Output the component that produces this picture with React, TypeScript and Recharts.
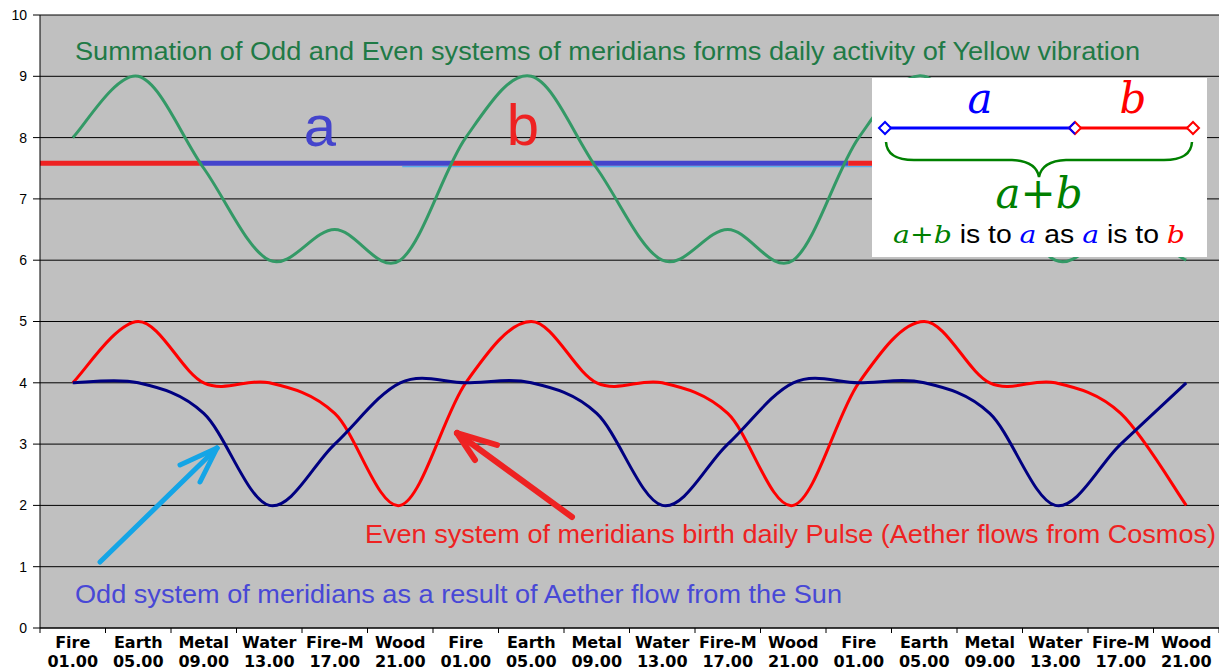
import React from "react";
import { LineChart, Line, CartesianGrid, XAxis, YAxis } from "recharts";

// categories (three daily cycles)
const elements = [
  "Fire", "Earth", "Metal", "Water", "Fire-M", "Wood",
  "Fire", "Earth", "Metal", "Water", "Fire-M", "Wood",
  "Fire", "Earth", "Metal", "Water", "Fire-M", "Wood",
];
const hours = [
  "01.00", "05.00", "09.00", "13.00", "17.00", "21.00",
  "01.00", "05.00", "09.00", "13.00", "17.00", "21.00",
  "01.00", "05.00", "09.00", "13.00", "17.00", "21.00",
];

// series
const yellowSum = [8, 9, 7.5, 6, 6.5, 6, 8, 9, 7.5, 6, 6.5, 6, 8, 9, 7.5, 6, 6.5, 6];
const evenPulse = [4, 5, 4, 4, 3.5, 2, 4, 5, 4, 4, 3.5, 2, 4, 5, 4, 4, 3.5, 2];
const oddSun = [4, 4, 3.5, 2, 3, 4, 4, 4, 3.5, 2, 3, 4, 4, 4, 3.5, 2, 3, 4];

// golden section bar: level and the break points (in category index units)
const goldenLevel = 7.58;
const goldenBreaks = [-0.5, 1.94, 5.79, 7.94, 11.84, 13.9];
const goldenColors = ["#ee2222", "#4444cc"];
const thinLevel = 7.525;
const thinRange = [5.03, 12.6];

const yTicks = [0, 1, 2, 3, 4, 5, 6, 7, 8, 9, 10];

const W = 1219;
const H = 672;
const LEFT = 40;
const BAND = (W - LEFT) / elements.length;

const rows = elements.map((_, i) => ({
  idx: i,
  sum: yellowSum[i],
  even: evenPulse[i],
  odd: oddSun[i],
}));
const xBounds = [...elements.map((_, i) => i - 0.5), elements.length - 0.5];

// Excel-like smoothing (Catmull-Rom as cubic Beziers)
const excelSmooth = (context: any) => {
  let pts: number[][] = [];
  return {
    areaStart() {},
    areaEnd() {},
    lineStart() {
      pts = [];
    },
    lineEnd() {
      const n = pts.length;
      if (!n) return;
      context.moveTo(pts[0][0], pts[0][1]);
      for (let i = 0; i < n - 1; i++) {
        const p0 = pts[Math.max(i - 1, 0)];
        const p1 = pts[i];
        const p2 = pts[i + 1];
        const p3 = pts[Math.min(i + 2, n - 1)];
        context.bezierCurveTo(
          p1[0] + (p2[0] - p0[0]) / 6, p1[1] + (p2[1] - p0[1]) / 6,
          p2[0] - (p3[0] - p1[0]) / 6, p2[1] - (p3[1] - p1[1]) / 6,
          p2[0], p2[1]
        );
      }
    },
    point(x: number, y: number) {
      pts.push([+x, +y]);
    },
  };
};

function XTick(props: any) {
  const { x, y, payload } = props;
  const i = Math.round(payload.value + 0.5);
  if (i < 0 || i >= elements.length) return <g />;
  const cx = x + BAND / 2;
  return (
    <text x={cx} y={y} textAnchor="middle" fontFamily="DejaVu Sans" fontWeight="bold" fontSize={16} fill="#000">
      <tspan x={cx} dy={15}>{elements[i]}</tspan>
      <tspan x={cx} dy={19}>{hours[i]}</tspan>
    </text>
  );
}

function Diamond({ x, y, color }: { x: number; y: number; color: string }) {
  return (
    <polygon
      points={`${x - 6},${y} ${x},${y - 6} ${x + 6},${y} ${x},${y + 6}`}
      fill="#fff" stroke={color} strokeWidth={2}
    />
  );
}

function Annotations() {
  const sans = "Liberation Sans, Arial, sans-serif";
  const serif = "DejaVu Serif, serif";
  return (
    <svg width={W} height={H} style={{ position: "absolute", left: 0, top: 0, pointerEvents: "none" }}>
      <text x={75} y={60} fontFamily={sans} fontSize={25} fill="#1f7a46" textLength={1065} lengthAdjust="spacingAndGlyphs">
        Summation of Odd and Even systems of meridians forms daily activity of Yellow vibration
      </text>
      <text x={320} y={146} fontFamily={sans} fontSize={58} fill="#4444cc" textAnchor="middle">a</text>
      <text x={523} y={145} fontFamily={sans} fontSize={58} fill="#ee2222" textAnchor="middle">b</text>
      <text x={365} y={543} fontFamily={sans} fontSize={25} fill="#ee2222" textLength={851} lengthAdjust="spacingAndGlyphs">
        Even system of meridians birth daily Pulse (Aether flows from Cosmos)
      </text>
      <text x={75} y={603} fontFamily={sans} fontSize={25} fill="#4848d6" textLength={767} lengthAdjust="spacingAndGlyphs">
        Odd system of meridians as a result of Aether flow from the Sun
      </text>

      {/* arrows */}
      <g stroke="#14a5e6" strokeWidth={5} strokeLinecap="round" fill="none">
        <line x1={100} y1={562} x2={217} y2={448} />
        <line x1={217} y1={448} x2={180} y2={465} />
        <line x1={217} y1={448} x2={200} y2={482} />
      </g>
      <g stroke="#ee2222" strokeWidth={6} strokeLinecap="round" fill="none">
        <line x1={572} y1={517} x2={457} y2={433} />
        <line x1={457} y1={433} x2={497} y2={445} />
        <line x1={457} y1={433} x2={475} y2={460} />
      </g>

      {/* golden ratio box */}
      <rect x={872} y={78} width={335} height={179} fill="#fff" />
      <text x={980} y={113} fontFamily={serif} fontStyle="italic" fontSize={42} fill="#0000ff" textAnchor="middle">a</text>
      <text x={1133} y={113} fontFamily={serif} fontStyle="italic" fontSize={42} fill="#ff0000" textAnchor="middle">b</text>
      <line x1={885} y1={128} x2={1075} y2={128} stroke="#0000ff" strokeWidth={3} />
      <line x1={1075} y1={128} x2={1193} y2={128} stroke="#ff0000" strokeWidth={3} />
      <Diamond x={885} y={128} color="#0000ff" />
      <Diamond x={1075} y={128} color="#ff0000" />
      <polyline points="1075,122 1069,128 1075,134" fill="none" stroke="#0000ff" strokeWidth={2} />
      <Diamond x={1193} y={128} color="#ff0000" />
      <path
        d="M886,142 Q887,160 914,160 L1012,160 Q1036,161 1039,177 Q1042,161 1066,160 L1164,160 Q1191,160 1192,142"
        fill="none" stroke="#008000" strokeWidth={2.5}
      />
      <text x={1039} y={208} fontFamily={serif} fontStyle="italic" fontSize={42} fill="#008000" textAnchor="middle">a+b</text>
      <text x={893} y={243} fontSize={25} fontFamily={sans} fill="#000" textLength={292} lengthAdjust="spacingAndGlyphs">
        <tspan fontFamily={serif} fontStyle="italic" fill="#008000">a+b</tspan>
        <tspan> is to </tspan>
        <tspan fontFamily={serif} fontStyle="italic" fill="#0000ff">a</tspan>
        <tspan> as </tspan>
        <tspan fontFamily={serif} fontStyle="italic" fill="#0000ff">a</tspan>
        <tspan> is to </tspan>
        <tspan fontFamily={serif} fontStyle="italic" fill="#ff0000">b</tspan>
      </text>
    </svg>
  );
}

export default function App() {
  const segments = goldenBreaks.slice(0, -1).map((from, k) => ({
    color: goldenColors[k % 2],
    data: [
      { idx: from, level: goldenLevel },
      { idx: goldenBreaks[k + 1], level: goldenLevel },
    ],
  }));
  const thin = thinRange.map((v) => ({ idx: v, level: thinLevel }));

  return (
    <div style={{ position: "fixed", left: 0, top: 0, width: W, height: H, overflow: "hidden", background: "#fff", fontFamily: "Liberation Sans, Arial, sans-serif" }}>
      <LineChart width={W} height={H} data={rows} margin={{ top: 15, right: 0, bottom: 0, left: 0 }}>
        <CartesianGrid vertical={false} stroke="#000" fill="#c0c0c0" fillOpacity={1} />
        <XAxis
          dataKey="idx"
          type="number"
          domain={[-0.5, elements.length - 0.5]}
          ticks={xBounds}
          interval={0}
          height={44}
          tickSize={5}
          tickMargin={0}
          tick={<XTick />}
          stroke="#000"
          allowDataOverflow
        />
        <YAxis
          width={LEFT}
          domain={[0, 10]}
          ticks={yTicks}
          interval={0}
          tickSize={7}
          tickMargin={6}
          stroke="#000"
          tick={{ fill: "#000", fontSize: 14, fontFamily: "Liberation Sans, Arial" }}
        />
        {segments.map((s, k) => (
          <Line
            key={"seg" + k}
            data={s.data}
            dataKey="level"
            type="linear"
            stroke={s.color}
            strokeWidth={5}
            dot={false}
            activeDot={false}
            isAnimationActive={false}
          />
        ))}
        <Line data={thin} dataKey="level" type="linear" stroke="#3fa9f5" strokeWidth={1} dot={false} activeDot={false} isAnimationActive={false} />
        <Line dataKey="sum" type={excelSmooth as any} stroke="#339966" strokeWidth={3} dot={false} isAnimationActive={false} />
        <Line dataKey="even" type={excelSmooth as any} stroke="#ff0000" strokeWidth={3} dot={false} isAnimationActive={false} />
        <Line dataKey="odd" type={excelSmooth as any} stroke="#000080" strokeWidth={3} dot={false} isAnimationActive={false} />
      </LineChart>
      <Annotations />
    </div>
  );
}
